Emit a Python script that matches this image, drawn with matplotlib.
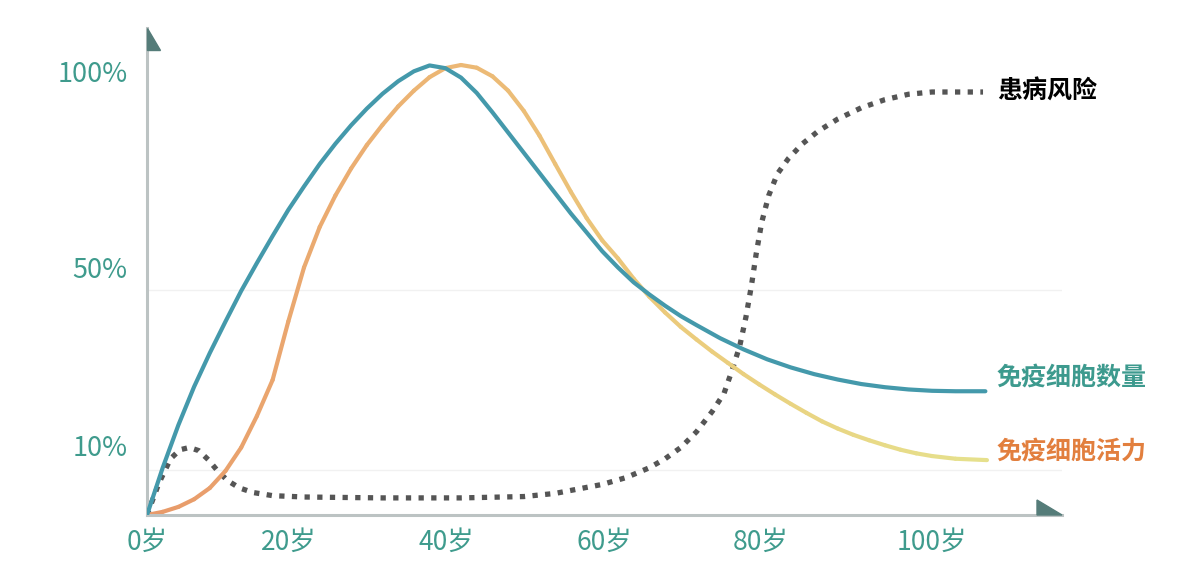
import numpy as np
import matplotlib
matplotlib.use("Agg")
from matplotlib import pyplot as plt
from matplotlib.collections import LineCollection
from matplotlib.colors import LinearSegmentedColormap
from matplotlib.patches import Polygon
import matplotlib.transforms as mtransforms

plt.rcParams['font.family'] = ['Noto Sans CJK SC', 'DejaVu Sans']

# immune cell count (blue)
count_age = [0, 2, 4, 6, 8, 10, 12, 14, 16, 18, 20, 22, 24, 26, 28, 30, 32, 34,
             36, 38, 40, 42, 44, 46, 48, 50, 52, 54, 56, 58, 60, 62, 64, 66, 68,
             70, 73, 76, 79, 82, 85, 88, 91, 94, 97, 100, 103, 106.8]
count_val = [0, 10.5, 20, 28.5, 36, 43, 49.8, 56, 62, 67.8, 73, 78, 82.5,
             86.6, 90.3, 93.6, 96.4, 98.6, 99.9, 99.3, 97.2, 93.8, 89.5, 85,
             80.5, 76, 71.5, 67, 62.8, 58.6, 55, 51.7, 49, 46.5, 44.2, 42.2,
             39.3, 36.8, 34.6, 32.8, 31.3, 30.1, 29.1, 28.4, 27.9, 27.6, 27.5,
             27.5]

# immune cell vitality (orange -> yellow)
vital_age = [0, 2, 4, 6, 8, 10, 12, 14, 16, 18, 20, 22, 24, 26, 28, 30, 32, 34,
             36, 38, 40, 42, 44, 46, 48, 50, 52, 54, 56, 58, 60, 62, 64, 66, 68,
             70, 72, 74, 76, 78, 80, 82, 84, 86, 88, 90, 92, 94, 96, 98, 100,
             103, 107]
vital_val = [0, 0.7, 1.8, 3.5, 6, 9.8, 15, 22, 30, 43, 55, 64, 71, 77, 82.2,
             86.7, 90.8, 94.3, 97.3, 99.3, 100, 99.4, 97.5, 94.3, 89.8, 84.3,
             78, 71.8, 66, 61, 57, 52.5, 48.5, 45, 41.8, 39, 36.3, 33.8, 31.3,
             29, 26.8, 24.7, 22.7, 20.8, 19.2, 17.8, 16.6, 15.5, 14.5, 13.7,
             13.1, 12.5, 12.2]

# disease risk (dotted)
risk_age = [0, 1.5, 3, 4.2, 5.4, 6.6, 7.8, 9, 10.3, 11.8, 13.5, 16, 20, 30, 40,
            48, 52, 55, 58, 61, 64, 66, 68, 70, 72, 73.5, 74.5, 75.5, 76.3, 77,
            77.6, 78.3, 79.2, 80.3, 81.7, 83.5, 85.5, 88, 91, 94, 97, 100, 106.5]
risk_val = [0, 7, 12.5, 14.5, 15, 14.3, 12.3, 9.8, 7.6, 6, 5, 4.3, 4, 3.8, 3.8,
            4.1, 4.8, 5.8, 6.8, 8.3, 10.5, 12.5, 15, 18.5, 23, 27, 32, 37.5, 44,
            51, 58, 65, 71, 75.8, 79.2, 82.5, 85.3, 88, 90.5, 92.3, 93.5, 94,
            94]

x_ticks = [0, 20, 40, 60, 80, 100]
x_labels = ['0岁', '20岁', '40岁', '60岁', '80岁', '100岁']
y_ticks = [100, 50, 10]
y_labels = ['100%', '50%', '10%']

W, H = 1196, 586
fig = plt.figure(figsize=(W / 100, H / 100), dpi=100)
x0, y0, x1, y1 = 147, 515, 1062, 28          # axes box in pixels
ax = fig.add_axes([x0 / W, (H - y0) / H, (x1 - x0) / W, (y0 - y1) / H])
ax.set_xlim(0, (x1 - x0) / 7.85)
ax.set_ylim(0, (y0 - y1) / 4.5)

for s in ['top', 'right']:
    ax.spines[s].set_visible(False)
for s in ['left', 'bottom']:
    ax.spines[s].set_color('#bcc3c3')
    ax.spines[s].set_linewidth(2.2)
ax.tick_params(length=0)

for v in [10, 50]:
    ax.axhline(v, color='#f1f1f1', lw=1, zorder=0)

teal = '#3f9b8d'
ax.set_xticks(x_ticks)
ax.set_xticklabels(x_labels, fontsize=19, color=teal, fontweight='medium')
ax.set_yticks(y_ticks)
ax.set_yticklabels(y_labels, fontsize=19.5, color=teal, fontweight='medium')
ax.tick_params(axis='x', pad=10)
ax.tick_params(axis='y', pad=14)

# nudge tick labels to where the original puts them
x_shift = [0, -15, -15, -14, -14, 0]
for lab, dx in zip(ax.get_xticklabels(), x_shift):
    lab.set_transform(lab.get_transform() +
                      mtransforms.ScaledTranslation(dx / 100, 0, fig.dpi_scale_trans))
y_shift = [-7, 23, 25]
for lab, dy in zip(ax.get_yticklabels(), y_shift):
    lab.set_transform(lab.get_transform() +
                      mtransforms.ScaledTranslation(0, dy / 100, fig.dpi_scale_trans))

# arrow heads
aw, ah = x1 - x0, y0 - y1
arrow_col = '#557c79'
ax.add_patch(Polygon([(0, 1), (0, 1 - 22 / ah), (13 / aw, 1 - 22 / ah)],
                     closed=True, transform=ax.transAxes, color=arrow_col,
                     clip_on=False, zorder=5))
ax.add_patch(Polygon([(1 - 25 / aw, 0), (1 - 25 / aw, 15 / ah), (1, 0)],
                     closed=True, transform=ax.transAxes, color=arrow_col,
                     clip_on=False, zorder=5))

# risk curve
ax.plot(risk_age, risk_val, color='#555555', lw=3.8,
        linestyle=(0, (1, 1.4)), dash_capstyle='butt', zorder=2)

# count curve
ax.plot(count_age, count_val, color='#4499ab', lw=3, zorder=3,
        solid_capstyle='round', solid_joinstyle='round')

# vitality curve with orange->yellow gradient
pts = np.column_stack([vital_age, vital_val])
segs = np.stack([pts[:-1], pts[1:]], axis=1)
cmap = LinearSegmentedColormap.from_list(
    'vit', ['#e89a6a', '#ecb574', '#ebcc7c', '#e6e08c'])
lc = LineCollection(segs, cmap=cmap, linewidths=3, capstyle='round',
                    joinstyle='round', zorder=2.5)
lc.set_array(np.array(vital_age[:-1]) / max(vital_age))
ax.add_collection(lc)

# line labels
ax.annotate('患病风险', (risk_age[-1], risk_val[-1]), xytext=(10, 0),
            textcoords='offset points', ha='left', va='center',
            fontsize=18, fontweight='heavy', color='black', annotation_clip=False)
ax.annotate('免疫细胞数量', (count_age[-1], count_val[-1]), xytext=(8, 10),
            textcoords='offset points', ha='left', va='center',
            fontsize=18, fontweight='heavy', color='#3d9a8e', annotation_clip=False)
ax.annotate('免疫细胞活力', (vital_age[-1], vital_val[-1]), xytext=(7, 6),
            textcoords='offset points', ha='left', va='center',
            fontsize=18, fontweight='heavy', color='#e27f3e', annotation_clip=False)

plt.savefig('out.png', dpi=100)
plt.close()
